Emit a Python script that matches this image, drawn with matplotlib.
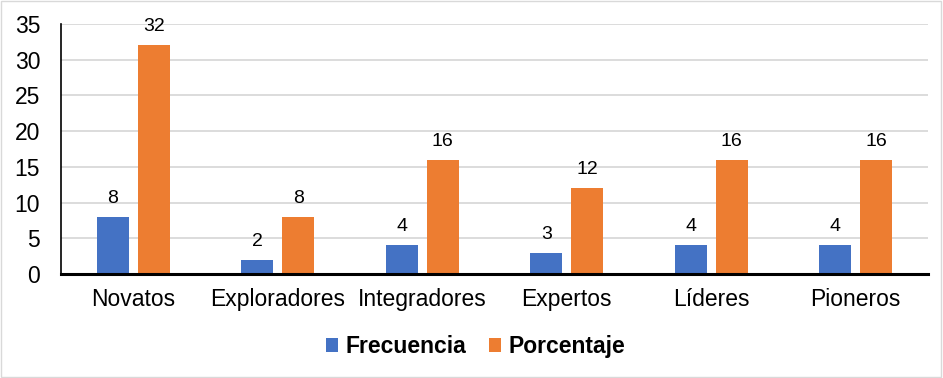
import matplotlib.pyplot as plt
import numpy as np

categories = ['Novatos', 'Exploradores', 'Integradores', 'Expertos', 'Líderes', 'Pioneros']
frecuencia = [8, 2, 4, 3, 4, 4]
porcentaje = [32, 8, 16, 12, 16, 16]

plt.rcParams['font.family'] = ['Liberation Sans', 'DejaVu Sans']

fig = plt.figure(figsize=(9.43, 3.78), dpi=100)
ax = fig.add_axes([0.0647, 0.275, 0.9193, 0.6615])

x = np.arange(len(categories))
w = 0.222
b1 = ax.bar(x - 0.142, frecuencia, w, color='#4472C4', label='Frecuencia', zorder=3)
b2 = ax.bar(x + 0.142, porcentaje, w, color='#ED7D31', label='Porcentaje', zorder=3)

for bars, vals in ((b1, frecuencia), (b2, porcentaje)):
    for rect, v in zip(bars, vals):
        ax.text(rect.get_x() + rect.get_width() / 2, v + 1.4, str(v),
                ha='center', va='bottom', fontsize=14, color='black')

ax.set_xlim(-0.5, len(categories) - 0.5)
ax.set_ylim(0, 35)
ax.set_yticks(range(0, 36, 5))
ax.set_xticks(x)
ax.set_xticklabels(categories)
ax.tick_params(axis='both', length=0, labelsize=16.5, colors='black')
ax.tick_params(axis='x', pad=10)
ax.tick_params(axis='y', pad=15)
ax.yaxis.grid(True, color='#D9D9D9', linewidth=1.3, zorder=0)
for s in ('top', 'right'):
    ax.spines[s].set_visible(False)
ax.spines['left'].set_linewidth(1.2)
ax.spines['bottom'].set_linewidth(2.2)
ax.spines['bottom'].set_zorder(4)

leg = fig.legend(loc='center', bbox_to_anchor=(0.504, 0.083), ncol=2, frameon=False,
                 prop={'weight': 'bold', 'size': 16.5}, handlelength=0.55, handleheight=0.55,
                 handletextpad=0.3, columnspacing=1.0)

fig.patches.append(plt.Rectangle((0.001, 0.002), 0.997, 0.995, transform=fig.transFigure,
                                 fill=False, edgecolor='#D9D9D9', linewidth=1))

fig.savefig('out.png', dpi=100)
